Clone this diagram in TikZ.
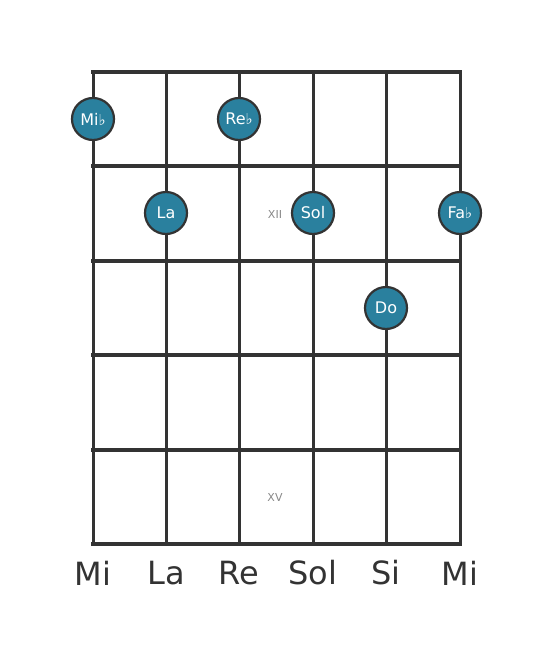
\documentclass[tikz,border=0pt]{standalone}
\usepackage{fontspec}
\setmainfont{DejaVu Sans}
\definecolor{fretgray}{RGB}{51,51,51}
\definecolor{dotblue}{RGB}{42,128,158}
\definecolor{labelgray}{RGB}{136,136,136}
\newcommand{\flatsym}{{\fontsize{15pt}{15pt}\selectfont\char"266D}}
\tikzset{
    notedot/.style = {circle, draw=fretgray, line width=2.2pt, fill=dotblue, minimum size=42pt, inner sep=0pt, text=white, font=\fontsize{16pt}{16pt}\selectfont},
    stringname/.style = {text=fretgray, font=\fontsize{32pt}{32pt}\selectfont},
    fretmark/.style = {text=labelgray, font=\fontsize{11pt}{11pt}\selectfont}
}

\begin{document}
\begin{tikzpicture}[x=1pt,y=-1pt, line cap=rect,line join=round]
\useasboundingbox (0,0) rectangle (553,656);

\draw [fretgray, line width=3pt] (93,72) -- (93,544);
\draw [fretgray, line width=3pt] (166,72) -- (166,544);
\draw [fretgray, line width=3pt] (239,72) -- (239,544);
\draw [fretgray, line width=3pt] (313,72) -- (313,544);
\draw [fretgray, line width=3pt] (386,72) -- (386,544);
\draw [fretgray, line width=3pt] (460,72) -- (460,544);

\draw [fretgray, line width=4pt] (93,72) -- (460,72);
\draw [fretgray, line width=4pt] (93,166) -- (460,166);
\draw [fretgray, line width=4pt] (93,261) -- (460,261);
\draw [fretgray, line width=4pt] (93,355) -- (460,355);
\draw [fretgray, line width=4pt] (93,450) -- (460,450);
\draw [fretgray, line width=4pt] (93,544) -- (460,544);

\node [fretmark] (twelve) at (275,214) {XII};
\node [fretmark] (fifteen) at (275,497) {XV};

\node [notedot] (mib) at (93,119) {Mi\flatsym};
\node [notedot] (reb) at (239,119) {Re\flatsym};
\node [notedot] (la) at (166,213) {La};
\node [notedot] (sol) at (313,213) {Sol};
\node [notedot] (fab) at (460,213) {Fa\flatsym};
\node [notedot] (do) at (386,308) {Do};

\node [stringname] (s6) at (93,573) {Mi};
\node [stringname] (s5) at (166,573) {La};
\node [stringname] (s4) at (239,573) {Re};
\node [stringname] (s3) at (313,573) {Sol};
\node [stringname] (s2) at (386,573) {Si};
\node [stringname] (s1) at (460,573) {Mi};
\end{tikzpicture}
\end{document}
